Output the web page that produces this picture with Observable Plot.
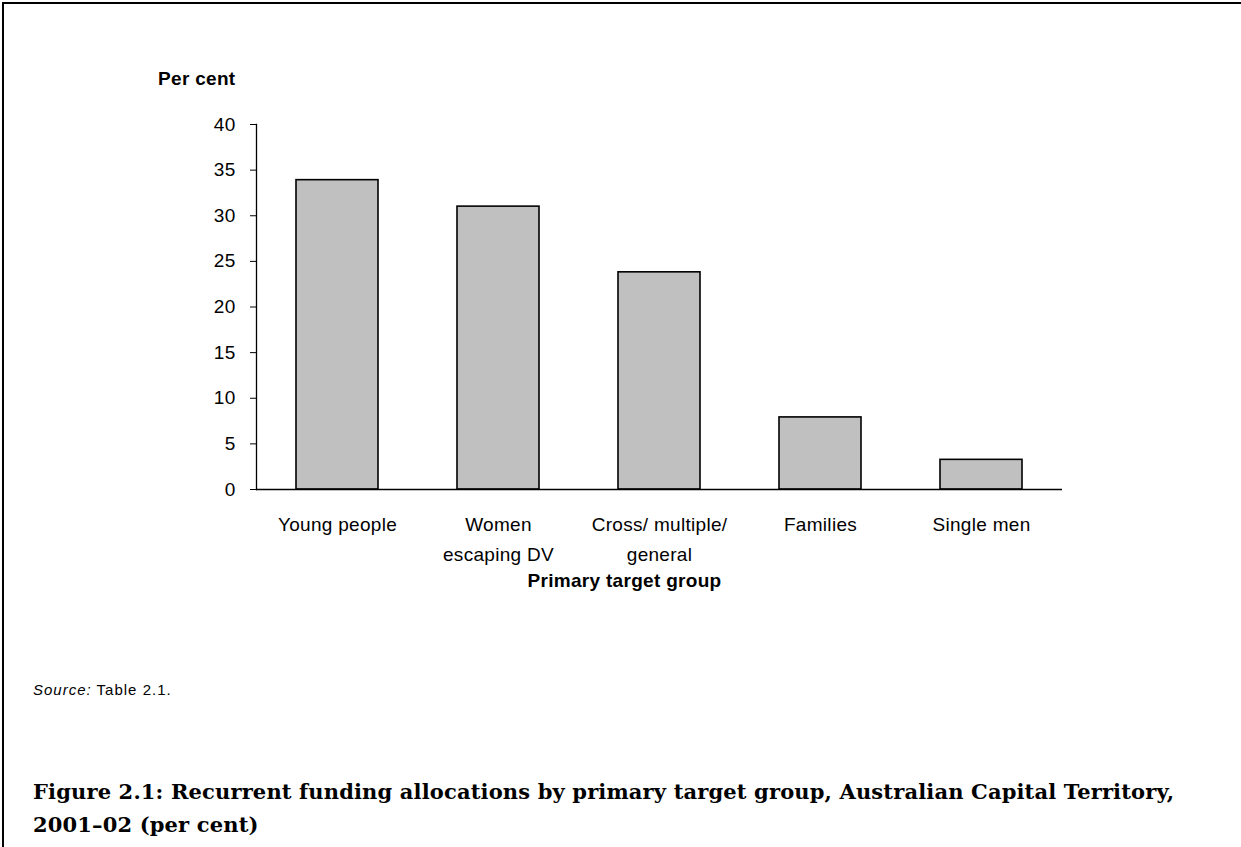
<!DOCTYPE html>
<html>
<head>
<meta charset="utf-8">
<script src="https://cdn.jsdelivr.net/npm/d3@7"></script>
<script src="https://cdn.jsdelivr.net/npm/@observablehq/plot@0.6"></script>
<style>
  html, body { margin: 0; padding: 0; background: #fff; }
  body { width: 1241px; height: 847px; position: relative; overflow: hidden; }
  #border { position: absolute; left: 2px; top: 2px; width: 1250px; height: 860px;
            border-top: 2px solid #000; border-left: 2px solid #000; }
  #chart { position: absolute; left: 0; top: 0; }
  #source { position: absolute; left: 33px; top: 681px; font-family: "Liberation Sans", Arial, sans-serif;
            font-size: 15px; letter-spacing: 1px; color: #000; }
  #title { position: absolute; left: 33px; top: 775px; font-family: "DejaVu Serif", serif;
           font-weight: bold; font-size: 21px; letter-spacing: 0.15px; line-height: 33px; color: #000; white-space: nowrap; }
</style>
</head>
<body>
<div id="border"></div>
<div id="chart"></div>
<div id="source"><i>Source:</i> Table 2.1.</div>
<div id="title">Figure 2.1: Recurrent funding allocations by primary target group, Australian Capital Territory,<br>2001–02 (per cent)</div>
<script>
const categories = ["Young people", "Women escaping DV", "Cross/ multiple/ general", "Families", "Single men"];
const tickLabels = ["Young people", "Women\nescaping DV", "Cross/ multiple/\ngeneral", "Families", "Single men"];
const values = [33.9, 31.0, 23.8, 7.9, 3.25];
const yTicks = [0, 5, 10, 15, 20, 25, 30, 35, 40];

const data = categories.map((c, i) => ({category: c, value: values[i]}));
const labelOf = new Map(categories.map((c, i) => [c, tickLabels[i]]));

const chart = Plot.plot({
  width: 1241,
  height: 620,
  marginLeft: 256,
  marginRight: 179,
  marginTop: 124,
  marginBottom: 131,
  style: {fontFamily: "'Liberation Sans', Arial, sans-serif", fontSize: "19px", color: "#000", background: "transparent", letterSpacing: "0.3px"},
  x: {domain: categories, paddingInner: 0.49, paddingOuter: 0.245, label: null},
  y: {domain: [0, 40], label: null},
  marks: [
    Plot.barY(data, {x: "category", y: "value", fill: "#c0c0c0", stroke: "#000", strokeWidth: 1.6}),
    Plot.ruleY([0], {stroke: "#000", strokeWidth: 1.3}),
    Plot.frame({anchor: "left", stroke: "#000", strokeWidth: 1.3}),
    Plot.axisY({ticks: yTicks, tickSize: 6, tickPadding: 15, label: null, stroke: "#000", fontSize: 19}),
    Plot.axisX({tickSize: 0, tickPadding: 21, label: null, lineHeight: 1.55, fontSize: 19,
                tickFormat: (d) => labelOf.get(d)}),
    Plot.text(["Primary target group"], {frameAnchor: "bottom", text: (d) => d, dx: -35, dy: 91,
              lineAnchor: "middle", fontWeight: "bold", fontSize: 19}),
    Plot.text(["Per cent"], {frameAnchor: "top-left", text: (d) => d, dx: -21, dy: -46,
              textAnchor: "end", lineAnchor: "middle", fontWeight: "bold", fontSize: 19})
  ]
});
document.getElementById("chart").appendChild(chart);
</script>
</body>
</html>
